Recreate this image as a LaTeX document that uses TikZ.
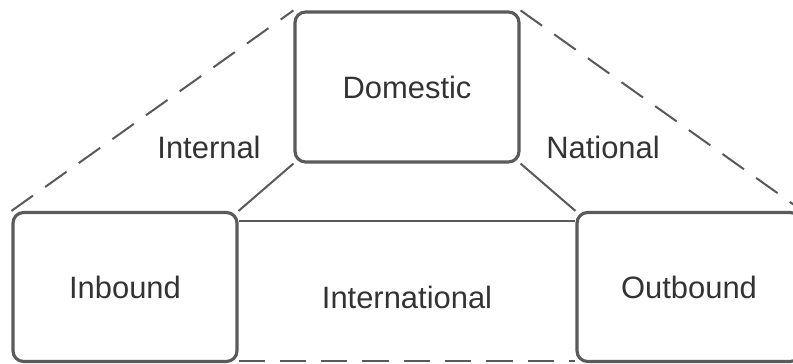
\documentclass[tikz,border=0pt]{standalone}
\usepackage{fontspec}
\setmainfont{Liberation Sans}
\usetikzlibrary{positioning}
\definecolor{edgegrey}{HTML}{5A5A5A}
\definecolor{textgrey}{HTML}{333333}
\tikzset{
  scopebox/.style={draw=edgegrey,line width=1.8pt,rounded corners=6pt,minimum width=4.48cm,minimum height=3cm,text=textgrey,font=\fontsize{17.6}{20}\selectfont},
  scopelabel/.style={text=textgrey,font=\fontsize{17.6}{20}\selectfont},
  link/.style={draw=edgegrey,line width=1.15pt},
  dashlink/.style={link,dash pattern=on 15pt off 8.5pt}
}
\begin{document}
\begin{tikzpicture}[line cap=butt,line join=round,x=0.02cm,y=-0.02cm]
\clip (0,0) rectangle (793,364);
% the three boxes
\node [scopebox] (dom) at (407,87) {Domestic};
\node [scopebox,minimum height=2.98cm] (inb) at (125,287) {Inbound};
\node [scopebox,minimum height=2.98cm] (outb) at (689,287) {Outbound};
% solid links
\draw [link] (inb.north east) -- (dom.south west);
\draw [link] (dom.south east) -- (outb.north west);
\draw [link] ([yshift=-0.2cm]inb.north east) -- ([yshift=-0.2cm]outb.north west);
% dashed links
\draw [dashlink] (inb.north west) -- (dom.north west);
\draw [dashlink] (dom.north east) -- (outb.north east);
\draw [dashlink] ([yshift=0.04cm]inb.south east) -- ([yshift=0.04cm]outb.south west);
% labels
\node [scopelabel] (internal) at (209,147) {Internal};
\node [scopelabel] (national) at (603,147) {National};
\node [scopelabel] (intl) at (407,297) {International};
\end{tikzpicture}
\end{document}
